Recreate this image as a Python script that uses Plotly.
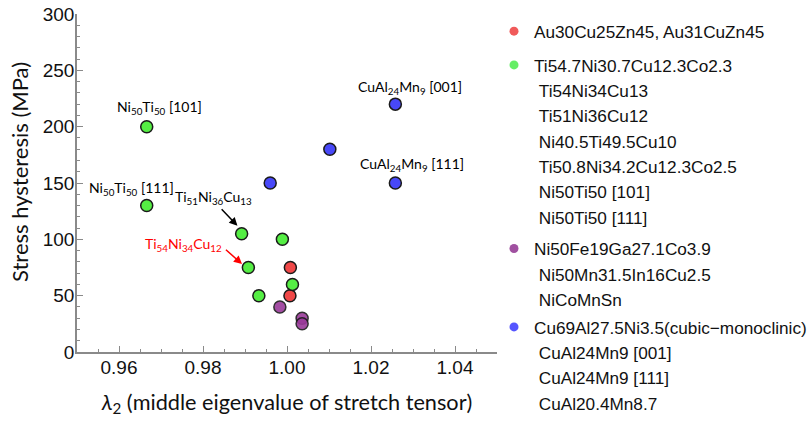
import plotly.graph_objects as go

# ---- data ----
red_x = [1.0008, 1.0007]
red_y = [75, 50]

green_x = [0.9666, 0.9666, 0.9892, 0.9989, 0.9908, 0.9933, 1.0013]
green_y = [200, 130, 105, 100, 75, 50, 60]

purple_x = [0.9983, 1.0036, 1.0036]
purple_y = [40, 30, 25]

blue_x = [0.9960, 1.0102, 1.0258, 1.0258]
blue_y = [150, 180, 220, 150]

legend_groups = [
    ("#f05a5a", ["Au30Cu25Zn45, Au31CuZn45"]),
    ("#66ee66", ["Ti54.7Ni30.7Cu12.3Co2.3", "Ti54Ni34Cu13", "Ti51Ni36Cu12",
                 "Ni40.5Ti49.5Cu10", "Ti50.8Ni34.2Cu12.3Co2.5",
                 "Ni50Ti50 [101]", "Ni50Ti50 [111]"]),
    ("#a050a0", ["Ni50Fe19Ga27.1Co3.9", "Ni50Mn31.5In16Cu2.5", "NiCoMnSn"]),
    ("#5555ff", ["Cu69Al27.5Ni3.5(cubic\u2212monoclinic)", "CuAl24Mn9 [001]",
                 "CuAl24Mn9 [111]", "CuAl20.4Mn8.7"]),
]
legend_tops_px = [13.5, 47.2, 230.8, 309.2]

x_ticks = [0.96, 0.98, 1.00, 1.02, 1.04]
y_ticks = [0, 50, 100, 150, 200, 250, 300]

# labels: (text, x, y, color)
labels = [
    ("Ni<sub>50</sub>Ti<sub>50</sub> [101]", 0.9697, 217, "black"),
    ("Ni<sub>50</sub>Ti<sub>50</sub> [111]", 0.9630, 145, "black"),
    ("Ti<sub>51</sub>Ni<sub>36</sub>Cu<sub>13</sub>", 0.9825, 137, "black"),
    ("Ti<sub>54</sub>Ni<sub>34</sub>Cu<sub>12</sub>", 0.9753, 95, "red"),
    ("CuAl<sub>24</sub>Mn<sub>9</sub> [001]", 1.0294, 235, "black"),
    ("CuAl<sub>24</sub>Mn<sub>9</sub> [111]", 1.0297, 166, "black"),
]
# arrows: (x_tail, y_tail, x_head, y_head, color)
arrows = [
    (0.9841, 128, 0.9882, 112, "black"),
    (0.9851, 92, 0.9893, 78, "red"),
]

W, H = 809, 426
L, R, T, B = 77, 312, 14, 74
plot_w = W - L - R
plot_h = H - T - B

fig = go.Figure()

def add_pts(xs, ys, color, opacity=1.0):
    fig.add_trace(go.Scatter(
        x=xs, y=ys, mode="markers", showlegend=False, hoverinfo="skip",
        marker=dict(size=12, color=color, opacity=opacity,
                    line=dict(color="#1a1a1a", width=1.5)),
    ))

add_pts(red_x, red_y, "#f04848")
add_pts(green_x, green_y, "#55ee44")
add_pts(purple_x, purple_y, "#9a3a9a", 0.9)
add_pts(blue_x, blue_y, "#4848f8")

legend_layout = {}
for gi, (color, names) in enumerate(legend_groups):
    lname = "legend" if gi == 0 else f"legend{gi + 1}"
    for ni, name in enumerate(names):
        fig.add_trace(go.Scatter(
            x=[None], y=[None], mode="markers",
            name=name if ni == 0 else "\u00a0" + name,
            legend=lname, showlegend=True,
            marker=dict(size=9, color=color if ni == 0 else "rgba(0,0,0,0)",
                        line=dict(width=0)),
        ))
    top_px = legend_tops_px[gi]
    legend_layout[lname] = dict(
        x=(494 - L) / plot_w, xanchor="left",
        y=(H - B - top_px) / plot_h, yanchor="top",
        font=dict(family="Liberation Sans, Arial", size=17.2, color="#111"),
        bgcolor="rgba(0,0,0,0)", borderwidth=0, tracegroupgap=0,
        itemwidth=30,
    )

for text, x, y, c in labels:
    fig.add_annotation(x=x, y=y, text=text, showarrow=False,
                       font=dict(family="Lato, Open Sans", size=14, color=c))
for xt, yt, xh, yh, c in arrows:
    fig.add_annotation(x=xh, y=yh, ax=xt, ay=yt, axref="x", ayref="y",
                       text="", showarrow=True, arrowhead=2, arrowsize=1.1,
                       arrowwidth=1.5, arrowcolor=c)

# y-axis title placed as annotation (slightly above plot centre as in reference)
fig.add_annotation(xref="paper", yref="paper", x=0, y=(H - B - 172) / plot_h,
                   xshift=-57, text="Stress hysteresis (MPa)", textangle=-90,
                   showarrow=False, xanchor="center", yanchor="middle",
                   font=dict(family="Lato, Open Sans", size=22, color="#111"))

axis_common = dict(
    showline=True, linecolor="#8a8a8a", linewidth=1.5,
    ticks="inside", ticklen=6, tickwidth=1.2, tickcolor="#8a8a8a",
    showgrid=False, zeroline=False,
    tickfont=dict(family="Liberation Sans, Arial", size=19, color="#111"),
)

fig.update_layout(
    width=W, height=H,
    margin=dict(l=L, r=R, t=T, b=B, pad=0, autoexpand=False),
    paper_bgcolor="white", plot_bgcolor="white",
    xaxis=dict(range=[0.95, 1.05], tickvals=x_ticks,
               ticktext=[f"{v:.2f}" for v in x_ticks],
               ticklabelstandoff=-3,
               minor=dict(dtick=0.005, ticks="inside", ticklen=3,
                          tickcolor="#8a8a8a", tickwidth=1.2, showgrid=False),
               title=dict(text="<i>λ</i><sub>2</sub> (middle eigenvalue of stretch tensor)",
                          font=dict(family="Lato, Open Sans", size=21.7, color="#111"),
                          standoff=18),
               **axis_common),
    yaxis=dict(range=[0, 300], tickvals=y_ticks,
               ticklabelstandoff=-3,
               minor=dict(dtick=10, ticks="inside", ticklen=3,
                          tickcolor="#8a8a8a", tickwidth=1.2, showgrid=False),
               **axis_common),
    **legend_layout,
)

fig.write_html("out.html")
